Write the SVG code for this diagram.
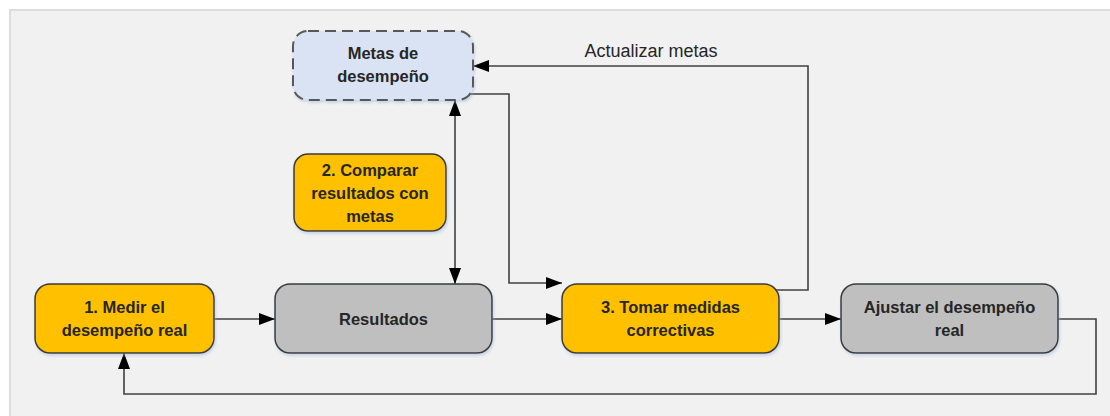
<svg xmlns="http://www.w3.org/2000/svg" width="1110" height="416" viewBox="0 0 1110 416">
<style>
.t{font-family:"Liberation Sans",Arial,sans-serif;font-size:16.5px;font-weight:bold;fill:#262626;text-anchor:middle}
.lbl{font-family:"Liberation Sans",Arial,sans-serif;font-size:18px;fill:#262626;text-anchor:middle}
.box{stroke:#3a3a3a;stroke-width:1.5}
.y{fill:#ffc000}
.g{fill:#bfbfbf}
.c{fill:none;stroke:#404040;stroke-width:1.6}
</style>
<defs>
<marker id="ah" viewBox="0 0 16 12" refX="16" refY="6" markerWidth="16" markerHeight="12" markerUnits="userSpaceOnUse" orient="auto-start-reverse">
<path d="M0,0 L16,6 L0,12 z" fill="#000"/>
</marker>
<filter id="sh" x="-10%" y="-10%" width="120%" height="130%">
<feDropShadow dx="1" dy="2" stdDeviation="1.5" flood-color="#9db3d6" flood-opacity="0.5"/>
</filter>
</defs>
<rect x="0" y="0" width="1110" height="416" fill="#ffffff"/>
<rect x="10" y="10" width="1110" height="420" fill="#f1f1f1" stroke="#dcdcdc" stroke-width="2"/>

<g id="connectors">
<line class="c" x1="214" y1="319" x2="275" y2="319" marker-end="url(#ah)"/>
<line class="c" x1="492" y1="319" x2="562" y2="319" marker-end="url(#ah)"/>
<line class="c" x1="779" y1="319" x2="841" y2="319" marker-end="url(#ah)"/>
<polyline class="c" points="1058,319 1096,319 1096,394 124,394 124,353" marker-end="url(#ah)"/>
<line class="c" x1="455" y1="100" x2="455" y2="284" marker-start="url(#ah)" marker-end="url(#ah)"/>
<polyline class="c" points="468,94 509,94 509,283 562,283" marker-end="url(#ah)"/>
<polyline class="c" points="773,290 808,290 808,66 473,66" marker-end="url(#ah)"/>
<text class="lbl" x="651" y="57">Actualizar metas</text>
</g>

<g id="metas">
<rect x="293" y="31" width="180" height="69" rx="15" fill="#dae3f3" stroke="#595959" stroke-width="2" stroke-dasharray="11,6" filter="url(#sh)"/>
<text class="t" x="383" y="59">Metas de</text>
<text class="t" x="383" y="82">desempeño</text>
</g>

<g id="comparar">
<rect class="box y" x="294" y="154" width="152" height="77" rx="14" filter="url(#sh)"/>
<text class="t" x="370" y="176">2. Comparar</text>
<text class="t" x="370" y="199">resultados con</text>
<text class="t" x="370" y="222">metas</text>
</g>

<g id="medir">
<rect class="box y" x="35" y="284" width="179" height="69" rx="15" filter="url(#sh)"/>
<text class="t" x="124.5" y="313">1. Medir el</text>
<text class="t" x="124.5" y="336">desempeño real</text>
</g>

<g id="resultados">
<rect class="box g" x="275" y="284" width="217" height="69" rx="15" filter="url(#sh)"/>
<text class="t" x="383.5" y="325">Resultados</text>
</g>

<g id="tomar">
<rect class="box y" x="562" y="284" width="217" height="69" rx="15" filter="url(#sh)"/>
<text class="t" x="670.5" y="313">3. Tomar medidas</text>
<text class="t" x="670.5" y="336">correctivas</text>
</g>

<g id="ajustar">
<rect class="box g" x="841" y="284" width="217" height="69" rx="15" filter="url(#sh)"/>
<text class="t" x="949.5" y="313">Ajustar el desempeño</text>
<text class="t" x="949.5" y="336">real</text>
</g>
</svg>
